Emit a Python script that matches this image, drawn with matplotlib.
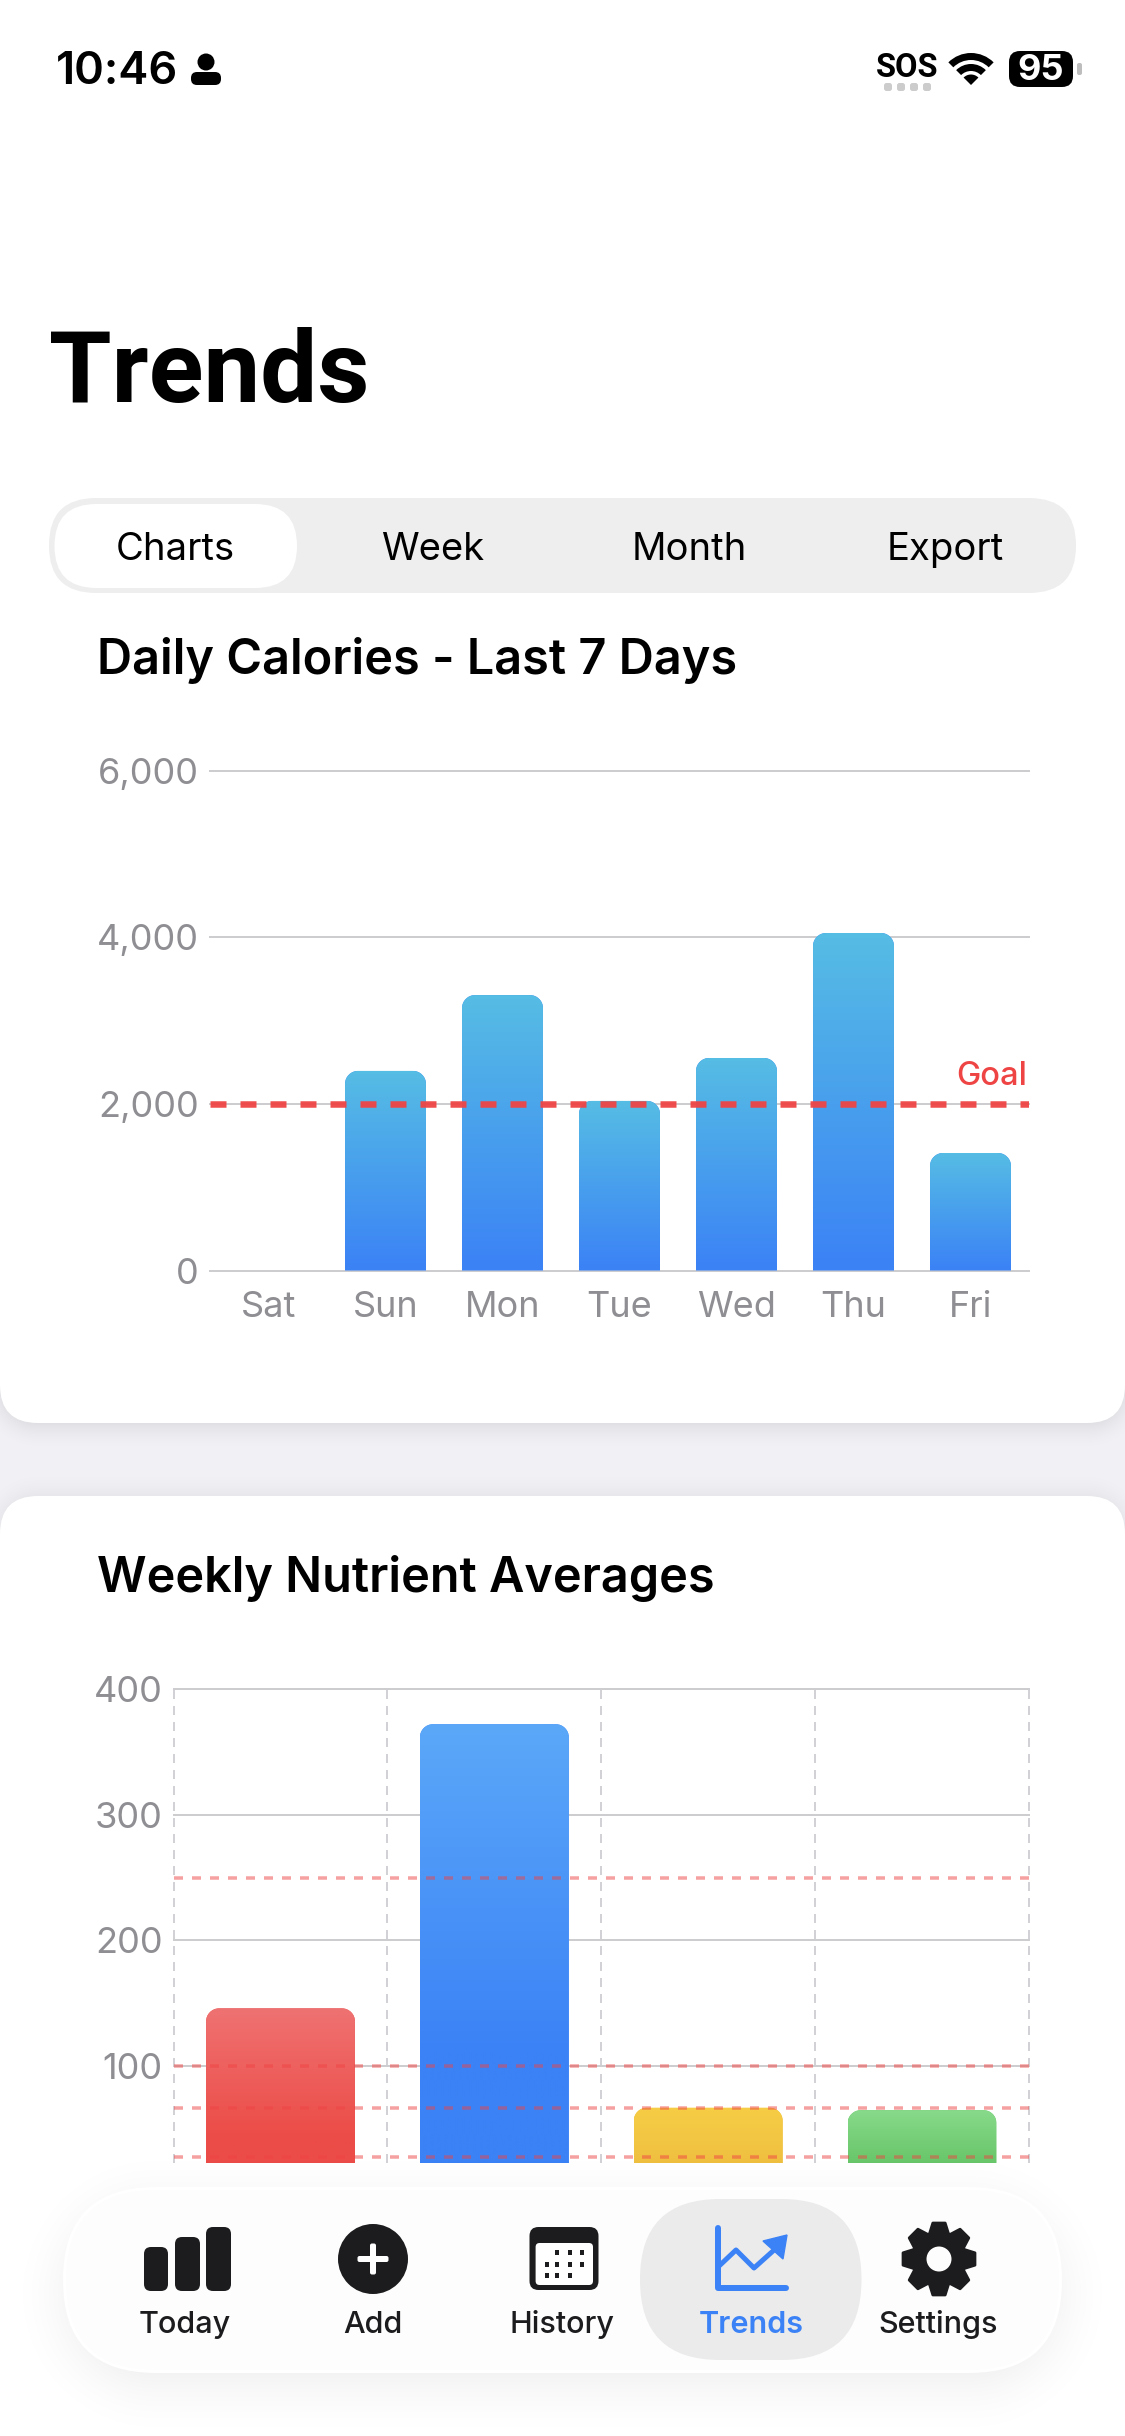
import numpy as np
import matplotlib
matplotlib.use("Agg")
import matplotlib.pyplot as plt

from matplotlib.colors import to_rgb
from matplotlib.patches import Circle, FancyBboxPatch, Polygon, Rectangle, Wedge
from matplotlib.path import Path

# Chart data.

day_labels = ["Sat", "Sun", "Mon", "Tue", "Wed", "Thu", "Fri"]
day_calories = [0, 2395, 3305, 2035, 2550, 4050, 1410]
calorie_goal = 2000
calorie_ticks = [0, 2000, 4000, 6000]

nutrient_values = [146, 372, 67, 65]
nutrient_goals = [250, 100, 67, 28]
nutrient_ticks = [100, 200, 300, 400]
nutrient_tops = ["#EF7272", "#5BA8F9", "#F6CD45", "#87DA8A"]
nutrient_ends = ["#EC4C47", "#3B82F6", "#EFBF40", "#66C466"]

tabs = ["Charts", "Week", "Month", "Export"]
tab_x = [175, 432.5, 689, 945.5]
nav_labels = ["Today", "Add", "History", "Trends", "Settings"]
nav_x = [185, 373, 562, 751, 938]

W, H = 1125, 2436
UI_FONT = ["Inter", "DejaVu Sans"]
GREY = "#8E8E93"
INK = "#1C1C1E"
BLUE = "#3B82F6"
RED = "#EF4444"
NAV_BG = "#FDFDFD"

plt.rcParams['font.family'] = UI_FONT
plt.rcParams['lines.scale_dashes'] = False

PX = 0.72  # points per pixel at dpi=100


def rect_axes(fig, x0, y0, x1, y1, **kwargs):
    # Axes placed by screen pixels (y measured from the top).
    return fig.add_axes([x0 / W, 1.0 - y1 / H, (x1 - x0) / W, (y1 - y0) / H],
                        **kwargs)


def pill(axes, x0, y0, x1, y1, r, **kwargs):
    patch = FancyBboxPatch((x0, y0), x1 - x0, y1 - y0,
                           boxstyle="round,pad=0,rounding_size={0}".format(r),
                           linewidth=0, **kwargs)
    axes.add_patch(patch)
    return patch


def soft_shadow(axes, x0, y0, x1, y1, r, spread, alpha, dy=0.0):
    # Blurred shadow of a rounded box, from its distance field.
    xx, yy = np.meshgrid(np.arange(W) + 0.5, np.arange(H) + 0.5)
    qx = np.abs(xx - (x0 + x1) / 2.0) - ((x1 - x0) / 2.0 - r)
    qy = np.abs(yy - (y0 + y1) / 2.0 - dy) - ((y1 - y0) / 2.0 - r)
    dist = (np.hypot(np.maximum(qx, 0.0), np.maximum(qy, 0.0))
            + np.minimum(np.maximum(qx, qy), 0.0) - r)

    rgba = np.zeros((H, W, 4), dtype=np.float32)
    rgba[..., 3] = alpha * np.clip(1.0 - (dist + dy) / spread, 0.0, 1.0) ** 2

    axes.imshow(rgba, extent=[0, W, H, 0], aspect='auto', zorder=1,
                interpolation='nearest')
    axes.set_xlim(0, W)
    axes.set_ylim(H, 0)


def rounded_top(x0, x1, y0, y1, rx, ry):
    k = 0.55
    verts = [(x0, y0), (x0, y1 - ry),
             (x0, y1 - ry * (1 - k)), (x0 + rx * (1 - k), y1), (x0 + rx, y1),
             (x1 - rx, y1),
             (x1 - rx * (1 - k), y1), (x1, y1 - ry * (1 - k)), (x1, y1 - ry),
             (x1, y0), (x0, y0)]
    codes = [Path.MOVETO, Path.LINETO, Path.CURVE4, Path.CURVE4, Path.CURVE4,
             Path.LINETO, Path.CURVE4, Path.CURVE4, Path.CURVE4, Path.LINETO,
             Path.CLOSEPOLY]
    return Path(verts, codes)


def gradient_bars(axes, bars, tops, ends, flat_from, radius_px):
    # Swap each bar's flat fill for a vertical gradient with rounded corners.
    box = axes.get_position()
    x_lo, x_hi = axes.get_xlim()
    y_lo, y_hi = axes.get_ylim()
    rx = radius_px * (x_hi - x_lo) / (box.width * W)
    ry = radius_px * (y_hi - y_lo) / (box.height * H)

    for bar, top, end in zip(bars, tops, ends):
        if bar.get_height() <= 0:
            continue
        x0, x1 = bar.get_x(), bar.get_x() + bar.get_width()
        y1 = bar.get_height()
        clip = rounded_top(x0, x1, 0.0, y1, rx, ry)

        t = np.clip(np.linspace(0.0, 1.0, 256) / flat_from, 0.0, 1.0)
        colours = np.outer(1.0 - t, to_rgb(top)) + np.outer(t, to_rgb(end))
        image = axes.imshow(colours[:, np.newaxis, :],
                            extent=[x0, x1, 0.0, y1], origin='upper',
                            aspect='auto', zorder=bar.get_zorder(),
                            interpolation='bilinear')
        image.set_clip_path(clip, transform=axes.transData)
        bar.set_clip_path(clip, transform=axes.transData)

    axes.set_xlim(x_lo, x_hi)
    axes.set_ylim(y_lo, y_hi)


fig = plt.figure(figsize=(W / 100.0, H / 100.0), dpi=100, facecolor="w")

# Page background and cards.

back = fig.add_axes([0, 0, 1, 1], zorder=0)
back.set_xlim(0, W)
back.set_ylim(H, 0)
back.axis('off')

back.add_patch(Rectangle((0, 0), W, H, facecolor="#F1F1F5", linewidth=0))
soft_shadow(back, 0, 1200, W, 1423, 38, 30, 0.07, dy=3)
soft_shadow(back, 0, 1496, W, H + 80, 38, 28, 0.04)
back.add_patch(Rectangle((0, 0), W, 1380, facecolor="w", linewidth=0))
pill(back, 0, 1200, W, 1423, 38, facecolor="w")
pill(back, 0, 1496, W, H + 80, 38, facecolor="w")

# Page title and segmented control.

back.text(49, 402, "Trends", fontsize=73, fontweight='bold', color="k",
          va='baseline', family=["Roboto", "DejaVu Sans"])
pill(back, 49, 498, 1076, 593, 47, facecolor="#EEEEEE")
pill(back, 54.5, 504, 297, 588, 42, facecolor="w")
for label, x in zip(tabs, tab_x):
    back.text(x, 560, label, fontsize=27.5, color="k", ha='center',
              va='baseline', fontweight='normal')

back.text(97, 674, "Daily Calories - Last 7 Days", fontsize=35,
          fontweight='semibold', color="k", va='baseline')
back.text(97, 1592, "Weekly Nutrient Averages", fontsize=35,
          fontweight='semibold', color="k", va='baseline')

# Status bar.

back.text(56, 84, "10:46", fontsize=32.5, fontweight='semibold', color="k",
          va='baseline')
back.add_patch(Circle((206, 62), 8.5, facecolor="k", linewidth=0))
pill(back, 191, 72, 221, 85, 6, facecolor="k")

back.text(907, 77, "SOS", fontsize=23.5, fontweight='bold', color="k",
          ha='center', va='baseline', family=["Roboto", "DejaVu Sans"])
for x in [888, 901, 914, 927]:
    pill(back, x - 4, 83, x + 4, 91, 2.5, facecolor="#CCCCCC")

for r, w in [(32, 7), (21, 7), (10.5, 10.5)]:
    back.add_patch(Wedge((971, 85), r, 225, 315, width=w, facecolor="k",
                         linewidth=0))

pill(back, 1009, 51, 1073, 87, 11, facecolor="k")
pill(back, 1077, 63, 1082, 75, 2, facecolor="#BDBDBD")
back.text(1041, 80, "95", fontsize=26, fontweight='bold', color="w",
          ha='center', va='baseline')

# Daily calories chart.

ax1 = rect_axes(fig, 210, 770.5, 1029, 1270.5, zorder=1)
ax1.patch.set_alpha(0.0)
x1 = np.arange(len(day_labels))
ax1.set_xlim(-0.5, len(day_labels) - 0.5)
ax1.set_ylim(0, calorie_ticks[-1])

bars1 = ax1.bar(x1, day_calories, width=0.692, color=BLUE, zorder=2)
gradient_bars(ax1, bars1, ["#56BDE4"] * 7, [BLUE] * 7, 1.0, 13)

ax1.set_yticks(calorie_ticks)
ax1.set_yticklabels(["{0:,}".format(v) for v in calorie_ticks])
ax1.set_xticks(x1)
ax1.set_xticklabels(day_labels)
ax1.grid(axis='y', color="#CDCDD0", linewidth=2 * PX, zorder=1)
ax1.set_axisbelow(True)
ax1.tick_params(axis='both', length=0, labelsize=26, labelcolor=GREY)
ax1.tick_params(axis='y', pad=8)
ax1.tick_params(axis='x', pad=15)
for spine in ax1.spines.values():
    spine.set_visible(False)
for gridline in ax1.get_ygridlines():
    gridline.set_clip_on(False)

ax1.axhline(calorie_goal, color=RED, alpha=0.95, linewidth=6.5 * PX,
            linestyle=(0, (16 * PX, 14 * PX)), dash_capstyle='butt', zorder=3)
ax1.text(0.998, calorie_goal + 225, "Goal",
         transform=ax1.get_yaxis_transform(), color=RED, fontsize=23.5,
         fontweight='medium', ha='right', va='baseline')

# Weekly nutrient chart; the tab bar cuts it off just above the zero line.

ax2 = rect_axes(fig, 173.6, 1689, 1029, 2163, zorder=1)
ax2.patch.set_alpha(0.0)
x2 = np.arange(len(nutrient_values))
ax2.set_xlim(-0.5, len(nutrient_values) - 0.5)
ax2.set_ylim(23, nutrient_ticks[-1])

bars2 = ax2.bar(x2, nutrient_values, width=0.696, color=nutrient_ends, zorder=2)
gradient_bars(ax2, bars2, nutrient_tops, nutrient_ends, 0.7, 13)

ax2.set_yticks(nutrient_ticks)
ax2.set_xticks(np.arange(len(nutrient_values) + 1) - 0.5)
ax2.set_xticklabels([])
ax2.grid(axis='y', color="#CDCDD0", linewidth=2 * PX, zorder=1)
ax2.grid(axis='x', color="#C8C8CC", linewidth=1.6 * PX,
         linestyle=(0, (9 * PX, 7 * PX)), zorder=1)
ax2.set_axisbelow(True)
ax2.tick_params(axis='both', length=0, labelsize=26, labelcolor=GREY)
ax2.tick_params(axis='y', pad=8)
for spine in ax2.spines.values():
    spine.set_visible(False)
for gridline in ax2.get_xgridlines() + ax2.get_ygridlines():
    gridline.set_clip_on(False)

for goal in nutrient_goals:
    ax2.axhline(goal, color=RED, alpha=0.5, linewidth=3.5 * PX,
                linestyle=(0, (9 * PX, 9 * PX)), dash_capstyle='butt',
                zorder=3)

# Floating tab bar, on top of the charts.

front = fig.add_axes([0, 0, 1, 1], zorder=5)
front.set_xlim(0, W)
front.set_ylim(H, 0)
front.axis('off')
front.patch.set_alpha(0.0)

front.add_patch(Rectangle((0, 2163), W, H - 2163, facecolor="w", linewidth=0))
soft_shadow(front, 63, 2187, 1062, 2373, 93, 75, 0.05, dy=14)
pill(front, 63, 2187, 1062, 2373, 93, facecolor="w")
pill(front, 66, 2190, 1059, 2370, 90, facecolor=NAV_BG)
pill(front, 640, 2199, 861.5, 2360, 80, facecolor="#EBEBEB")

for label, x in zip(nav_labels, nav_x):
    is_active = label == "Trends"
    front.text(x, 2333, label, fontsize=22,
               fontweight='semibold' if is_active else 'medium',
               color=BLUE if is_active else INK, ha='center', va='baseline')

# Today icon.
for x0, x1_, top in [(144, 168, 2247), (175, 200, 2237), (206, 231, 2227)]:
    pill(front, x0, top, x1_, 2291, 7, facecolor=INK)

# Add icon.
front.add_patch(Circle((373, 2259), 35, facecolor=INK, linewidth=0))
pill(front, 357.5, 2256, 388.5, 2262, 2, facecolor="w")
pill(front, 370, 2243.5, 376, 2274.5, 2, facecolor="w")

# History icon.
pill(front, 529.5, 2227, 598.5, 2290, 9, facecolor=INK)
pill(front, 535.6, 2243, 593, 2285, 4, facecolor="w")
for y, xs in [(2252, [557, 570, 582]), (2264, [547, 557, 570, 582]),
              (2275, [547, 557, 570])]:
    for x in xs:
        front.add_patch(Rectangle((x - 2, y - 2.5), 4, 5, facecolor=INK,
                                  linewidth=0))

# Trends icon.
front.plot([717.5, 717.5, 786], [2228, 2287.5, 2287.5], color=BLUE,
           linewidth=6 * PX, solid_capstyle='round', solid_joinstyle='round')
front.plot([718, 736, 754, 773], [2267, 2250, 2268, 2251], color=BLUE,
           linewidth=5 * PX, solid_capstyle='round', solid_joinstyle='round')
front.add_patch(Polygon([(787, 2235), (763, 2241), (783, 2259)], closed=True,
                        facecolor=BLUE, edgecolor=BLUE, linewidth=1))

# Settings icon.
gear_angles = np.linspace(0.0, 2.0 * np.pi, 8, endpoint=False) - np.pi / 2.0
gear_points = []
for a in gear_angles:
    for da, r in [(-0.36, 27), (-0.17, 36.5), (0.17, 36.5), (0.36, 27)]:
        gear_points.append((939 + r * np.cos(a + da), 2259 + r * np.sin(a + da)))
front.add_patch(Polygon(gear_points, closed=True, facecolor=INK, edgecolor=INK,
                        linewidth=2, joinstyle='round'))
front.add_patch(Circle((939, 2259), 12.5, facecolor=NAV_BG, linewidth=0))

fig.savefig("out.png", dpi=100)
plt.close(fig)
